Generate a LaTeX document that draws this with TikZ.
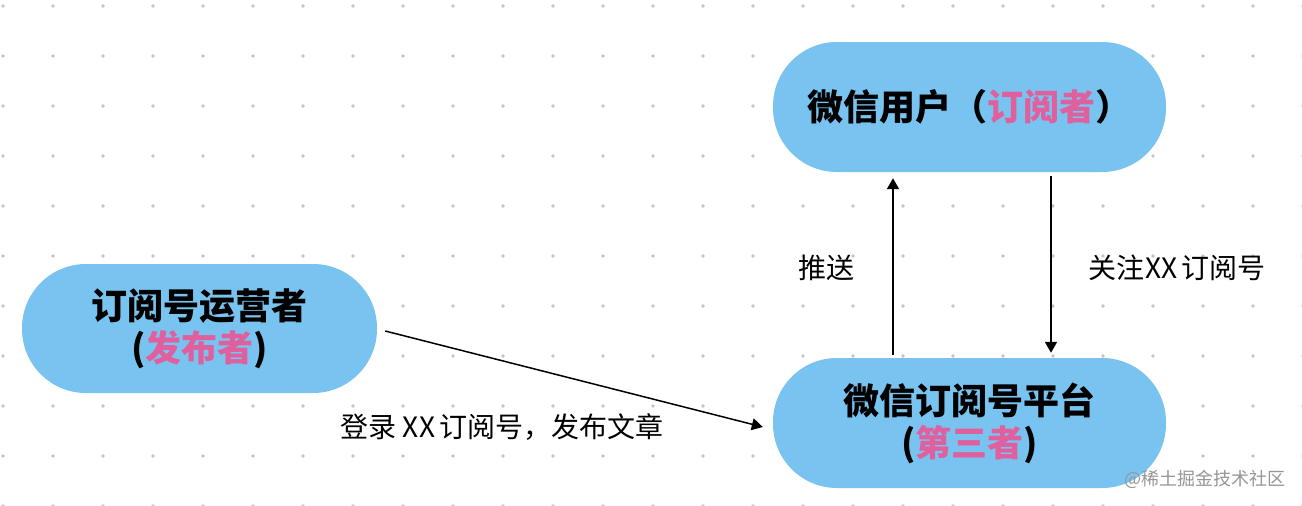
\documentclass[tikz,border=0pt]{standalone}
\usepackage{fontspec}
\setmainfont{Noto Sans CJK SC}
\usetikzlibrary{arrows.meta}
\definecolor{nodeblue}{RGB}{120,195,240}
\definecolor{pinktxt}{RGB}{224,96,158}
\definecolor{dotc}{RGB}{196,196,196}
\definecolor{wmark}{RGB}{150,150,150}
\tikzset{
  pill/.style={fill=nodeblue, draw=none, rounded corners=64pt, minimum width=393pt, minimum height=130pt, inner sep=0pt, align=center, font=\fontsize{36}{42}\selectfont\bfseries},
  arr/.style={line width=1.8pt, -{Triangle[width=12pt,length=11pt]}},
  lbl/.style={font=\fontsize{28}{32}\selectfont, inner sep=0pt},
}
\begin{document}
\begin{tikzpicture}[x=1pt,y=-1pt]
\useasboundingbox (0,0) rectangle (1302,506);
\fill[white] (0,0) rectangle (1302,506);
\foreach \i in {0,...,26}{
  \foreach \j in {0,...,10}{
    \fill[dotc] (3+50*\i,6+50*\j) circle (1.8);
  }
}
\node[pill] (user) at (969.5,107) {微信用户（\textcolor{pinktxt}{订阅者}）};
\node[pill, minimum width=355pt, minimum height=129pt] (op) at (199.5,328.5) {订阅号运营者\\(\textcolor{pinktxt}{发布者})};
\node[pill] (plat) at (969.5,423) {微信订阅号平台\\(\textcolor{pinktxt}{第三者})};
\draw[arr, line width=1.5pt] ([xshift=8pt,yshift=-2.5pt]op.east) -- ([xshift=-10pt,yshift=-4pt]plat.west);
\draw[arr] ([xshift=-76.5pt,yshift=3pt]plat.north) -- ([xshift=-76.5pt,yshift=-6pt]user.south);
\draw[arr] ([xshift=81.5pt,yshift=-4pt]user.south) -- ([xshift=81.5pt,yshift=5pt]plat.north);
\node[lbl] (push) at (826,268) {推送};
\node[lbl] (follow) at (1177,268) {关注\hspace{0.05em}XX\hspace{0.15em}订阅号};
\node[lbl] (login) at (502,427) {登录 XX\hspace{0.15em}订阅号，发布文章};
\node[font=\fontsize{18}{20}\selectfont, text=wmark, inner sep=0pt] (wm) at (1205,479) {@稀土掘金技术社区};
\end{tikzpicture}
\end{document}
